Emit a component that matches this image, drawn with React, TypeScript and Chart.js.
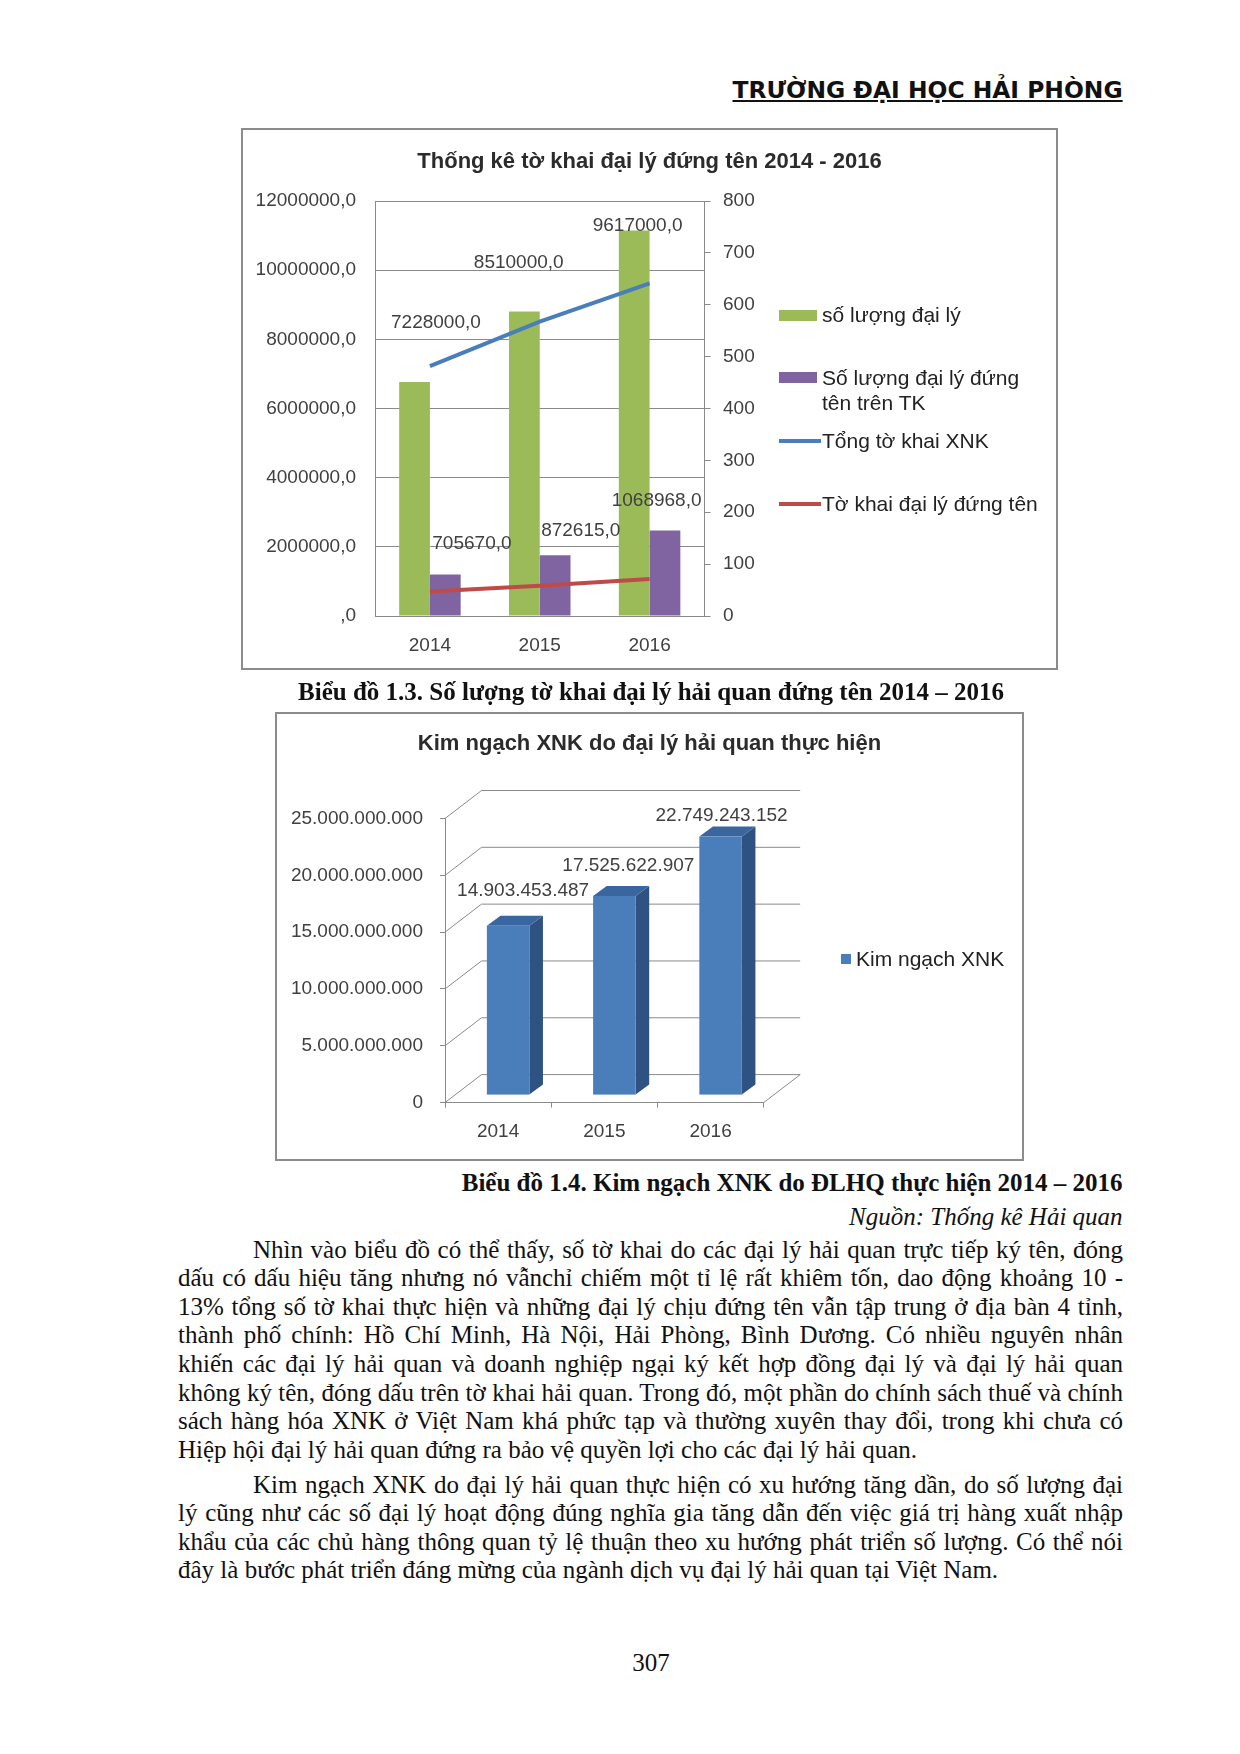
import React, { useEffect, useRef } from 'react';
import { Chart, registerables } from 'chart.js';

Chart.register(...registerables);

// ---------- Chart 1 data ----------
const years = ['2014', '2015', '2016'];
const agentCount = [451, 587, 743]; // số lượng đại lý (right axis)
const signingAgentCount = [80, 117, 165]; // Số lượng đại lý đứng tên trên TK (right axis)
const totalDeclarations = [7228000, 8510000, 9617000]; // Tổng tờ khai XNK (left axis)
const agentDeclarations = [705670, 872615, 1068968]; // Tờ khai đại lý đứng tên (left axis)

// ---------- Chart 2 data ----------
const tradeYears = ['2014', '2015', '2016'];
const tradeValue = [14903453487, 17525622907, 22749243152];

const SANS = '"Liberation Sans", Arial, sans-serif';
const SERIF = '"Liberation Serif", "Times New Roman", serif';
const GRID = '#8a8a8a';
const TXT = '#404040';

const dotFmt = (v: number) => String(Math.round(v)).replace(/\B(?=(\d{3})+(?!\d))/g, '.');
const commaFmt = (v: number) => (v === 0 ? ',0' : `${v},0`);

function ChartOne() {
  const ref = useRef<HTMLCanvasElement>(null);
  useEffect(() => {
    const labelOffsets: Record<number, number[][]> = {
      2: [[6, -43], [-21, -59], [-12, -58]],
      3: [[42, -48], [41, -55], [7, -78]],
    };
    const labelsPlugin = {
      id: 'labels1',
      afterDatasetsDraw(chart: any) {
        const ctx = chart.ctx;
        ctx.save();
        ctx.font = `19px ${SANS}`;
        ctx.fillStyle = TXT;
        ctx.textAlign = 'center';
        ctx.textBaseline = 'middle';
        [2, 3].forEach((di) => {
          const meta = chart.getDatasetMeta(di);
          const data = chart.data.datasets[di].data as number[];
          meta.data.forEach((el: any, i: number) => {
            const o = labelOffsets[di][i];
            ctx.fillText(commaFmt(data[i]), el.x + o[0], el.y + o[1]);
          });
        });
        ctx.restore();
      },
    };
    const chart = new Chart(ref.current!, {
      type: 'bar',
      data: {
        labels: years,
        datasets: [
          { type: 'bar', label: 'số lượng đại lý', data: agentCount, yAxisID: 'y1', backgroundColor: '#9BBB59', order: 2, categoryPercentage: 0.56, barPercentage: 1 },
          { type: 'bar', label: 'Số lượng đại lý đứng tên trên TK', data: signingAgentCount, yAxisID: 'y1', backgroundColor: '#8064A2', order: 2, categoryPercentage: 0.56, barPercentage: 1 },
          { type: 'line', label: 'Tổng tờ khai XNK', data: totalDeclarations, yAxisID: 'y', borderColor: '#4A7EBB', borderWidth: 4, pointRadius: 0, order: 1 },
          { type: 'line', label: 'Tờ khai đại lý đứng tên', data: agentDeclarations, yAxisID: 'y', borderColor: '#BE4B48', borderWidth: 4, pointRadius: 0, order: 1 },
        ] as any,
      },
      options: {
        animation: false,
        responsive: false,
        events: [],
        plugins: {
          legend: { display: false },
          tooltip: { enabled: false },
          title: {
            display: true,
            text: 'Thống kê tờ khai đại lý đứng tên 2014 - 2016',
            font: { family: SANS, size: 22, weight: 'bold', lineHeight: 1.2 },
            color: '#2b2b2b',
            padding: { top: 19.8, bottom: 25.8 },
          },
        },
        scales: {
          x: {
            offset: true,
            grid: { display: false, drawTicks: false },
            border: { display: true, color: GRID, width: 1 },
            ticks: { font: { family: SANS, size: 19 }, color: TXT, padding: 18 },
            afterFit: (s: any) => { s.height = 53; },
          },
          y: {
            position: 'left',
            min: 0,
            max: 12000000,
            ticks: { stepSize: 2000000, font: { family: SANS, size: 19 }, color: TXT, padding: 19, callback: (v: any) => commaFmt(Number(v)) },
            grid: { color: GRID, drawTicks: false, drawOnChartArea: true },
            border: { display: true, color: GRID },
            afterFit: (s: any) => { s.width = 133; },
          },
          y1: {
            position: 'right',
            min: 0,
            max: 800,
            ticks: { stepSize: 100, font: { family: SANS, size: 19 }, color: TXT, padding: 12.5 },
            grid: { color: GRID, drawTicks: true, tickLength: 6, drawOnChartArea: false },
            border: { display: true, color: GRID },
            afterFit: (s: any) => { s.width = 352.5; },
          },
        },
      } as any,
      plugins: [labelsPlugin],
    });
    return () => chart.destroy();
  }, []);
  return <canvas ref={ref} width={815} height={540} style={{ position: 'absolute', left: 242, top: 129, width: 815, height: 540 }} />;
}

function ChartTwo() {
  const ref = useRef<HTMLCanvasElement>(null);
  useEffect(() => {
    const WALL = { dx: 36.5, dy: -28 };
    const SHIFT = { dx: 10, dy: -7.5 };
    const DEPTH = { dx: 13.6, dy: -10 };
    const labelOffsets = [[25, -42], [24, -38], [11, -28]];
    const threeD = {
      id: 'threeD',
      beforeDatasetsDraw(chart: any) {
        const ctx = chart.ctx;
        const { left, right, bottom } = chart.chartArea;
        const ys = chart.scales.y;
        ctx.save();
        ctx.strokeStyle = GRID;
        ctx.lineWidth = 1;
        ys.ticks.forEach((t: any) => {
          const y = ys.getPixelForValue(t.value);
          ctx.beginPath();
          ctx.moveTo(left, y);
          ctx.lineTo(left + WALL.dx, y + WALL.dy);
          ctx.lineTo(right + WALL.dx, y + WALL.dy);
          ctx.stroke();
        });
        ctx.beginPath();
        ctx.moveTo(right, bottom);
        ctx.lineTo(right + WALL.dx, bottom + WALL.dy);
        ctx.stroke();
        ctx.restore();
      },
      afterDatasetsDraw(chart: any) {
        const ctx = chart.ctx;
        const meta = chart.getDatasetMeta(0);
        const data = chart.data.datasets[0].data as number[];
        ctx.save();
        meta.data.forEach((el: any) => {
          const xl = el.x - el.width / 2 + SHIFT.dx;
          const xr = el.x + el.width / 2 + SHIFT.dx;
          const yt = el.y + SHIFT.dy;
          const yb = el.base + SHIFT.dy;
          ctx.fillStyle = '#2E5382';
          ctx.beginPath();
          ctx.moveTo(xr, yt);
          ctx.lineTo(xr + DEPTH.dx, yt + DEPTH.dy);
          ctx.lineTo(xr + DEPTH.dx, yb + DEPTH.dy);
          ctx.lineTo(xr, yb);
          ctx.closePath();
          ctx.fill();
          ctx.fillStyle = '#3A66A0';
          ctx.beginPath();
          ctx.moveTo(xl, yt);
          ctx.lineTo(xr, yt);
          ctx.lineTo(xr + DEPTH.dx, yt + DEPTH.dy);
          ctx.lineTo(xl + DEPTH.dx, yt + DEPTH.dy);
          ctx.closePath();
          ctx.fill();
          ctx.fillStyle = '#4A7EBB';
          ctx.fillRect(xl, yt, xr - xl, yb - yt);
        });
        ctx.font = `19px ${SANS}`;
        ctx.fillStyle = TXT;
        ctx.textAlign = 'center';
        ctx.textBaseline = 'middle';
        meta.data.forEach((el: any, i: number) => {
          ctx.fillText(dotFmt(data[i]), el.x + labelOffsets[i][0], el.y + labelOffsets[i][1]);
        });
        ctx.restore();
      },
    };
    const chart = new Chart(ref.current!, {
      type: 'bar',
      data: {
        labels: tradeYears,
        datasets: [
          { label: 'Kim ngạch XNK', data: tradeValue, backgroundColor: 'rgba(0,0,0,0)', borderWidth: 0, categoryPercentage: 0.4, barPercentage: 1 },
        ],
      },
      options: {
        animation: false,
        responsive: false,
        events: [],
        plugins: {
          legend: { display: false },
          tooltip: { enabled: false },
          title: {
            display: true,
            text: 'Kim ngạch XNK do đại lý hải quan thực hiện',
            font: { family: SANS, size: 22, weight: 'bold', lineHeight: 1.2 },
            color: '#2b2b2b',
            padding: { top: 17.8, bottom: 61.3 },
          },
        },
        scales: {
          x: {
            offset: true,
            grid: { display: true, drawOnChartArea: false, drawTicks: true, tickLength: 5, color: GRID, offset: true },
            border: { display: true, color: GRID },
            ticks: { font: { family: SANS, size: 19 }, color: TXT, padding: 13 },
            afterFit: (s: any) => { s.height = 57.4; },
          },
          y: {
            min: 0,
            max: 25000000000,
            ticks: { stepSize: 5000000000, font: { family: SANS, size: 19 }, color: TXT, padding: 17, callback: (v: any) => dotFmt(Number(v)) },
            grid: { drawOnChartArea: false, drawTicks: true, tickLength: 5, color: GRID },
            border: { display: true, color: GRID },
            afterFit: (s: any) => { s.width = 169; },
          },
          legendSpace: {
            type: 'linear',
            position: 'right',
            display: true,
            ticks: { display: false },
            grid: { display: false, drawTicks: false },
            border: { display: false },
            afterFit: (s: any) => { s.width = 259.3; },
          },
        },
      } as any,
      plugins: [threeD],
    });
    return () => chart.destroy();
  }, []);
  return <canvas ref={ref} width={747} height={447} style={{ position: 'absolute', left: 276, top: 713, width: 747, height: 447 }} />;
}

const T = (props: { cy: number; h?: number; style?: any; children: any }) => {
  const h = props.h ?? 30;
  return (
    <div style={{ position: 'absolute', top: props.cy - h / 2, height: h, lineHeight: `${h}px`, whiteSpace: 'nowrap', ...props.style }}>
      {props.children}
    </div>
  );
};

const para1 = [
  'Nhìn vào biểu đồ có thể thấy, số tờ khai do các đại lý hải quan trực tiếp ký tên, đóng',
  'dấu có dấu hiệu tăng nhưng nó vẫnchỉ chiếm một tỉ lệ rất khiêm tốn, dao động khoảng 10 -',
  '13% tổng số tờ khai thực hiện và những đại lý chịu đứng tên vẫn tập trung ở địa bàn 4 tỉnh,',
  'thành phố chính: Hồ Chí Minh, Hà Nội, Hải Phòng, Bình Dương. Có nhiều nguyên nhân',
  'khiến các đại lý hải quan và doanh nghiệp ngại ký kết hợp đồng đại lý và đại lý hải quan',
  'không ký tên, đóng dấu trên tờ khai hải quan. Trong đó, một phần do chính sách thuế và chính',
  'sách hàng hóa XNK ở Việt Nam khá phức tạp và thường xuyên thay đổi, trong khi chưa có',
  'Hiệp hội đại lý hải quan đứng ra bảo vệ quyền lợi cho các đại lý hải quan.',
];
const para1Y = [1250, 1278, 1307, 1335, 1364, 1393, 1421, 1450];
const para2 = [
  'Kim ngạch XNK do đại lý hải quan thực hiện có xu hướng tăng dần, do số lượng đại',
  'lý cũng như các số đại lý hoạt động đúng nghĩa gia tăng dẫn đến việc giá trị hàng xuất nhập',
  'khẩu của các chủ hàng thông quan tỷ lệ thuận theo xu hướng phát triển số lượng. Có thể nói',
  'đây là bước phát triển đáng mừng của ngành dịch vụ đại lý hải quan tại Việt Nam.',
];
const para2Y = [1485, 1513, 1542, 1570];

function Para({ lines, ys }: { lines: string[]; ys: number[] }) {
  return (
    <>
      {lines.map((ln, i) => {
        const last = i === lines.length - 1;
        const indent = i === 0 ? 75 : 0;
        return (
          <T key={i} cy={ys[i]} h={28} style={{ left: 178 + indent, width: 945 - indent, fontFamily: SERIF, fontSize: 25, textAlign: last ? 'left' : 'justify', textAlignLast: last ? 'left' : 'justify', color: '#111' }}>
            {ln}
          </T>
        );
      })}
    </>
  );
}

export default function App() {
  const legendText = { fontFamily: SANS, fontSize: 21, color: '#222' };
  return (
    <div style={{ position: 'absolute', left: 0, top: 0, width: 1240, height: 1754, background: '#fff', overflow: 'hidden' }}>
      <T cy={89.5} style={{ right: 117.4, fontFamily: '"DejaVu Sans", Verdana, sans-serif', fontWeight: 'bold', fontSize: 23.4, textDecoration: 'underline', color: '#111' }}>
        TRƯỜNG ĐẠI HỌC HẢI PHÒNG
      </T>

      {/* Chart 1 */}
      <ChartOne />
      <div style={{ position: 'absolute', left: 241, top: 128, width: 817, height: 542, border: '2px solid #8c8c8c', boxSizing: 'border-box', pointerEvents: 'none' }} />
      <div style={{ position: 'absolute', left: 779, top: 310, width: 38, height: 11, background: '#9BBB59' }} />
      <T cy={315} h={24} style={{ left: 822, ...legendText }}>số lượng đại lý</T>
      <div style={{ position: 'absolute', left: 779, top: 372, width: 38, height: 11, background: '#8064A2' }} />
      <T cy={378} h={24} style={{ left: 822, ...legendText }}>Số lượng đại lý đứng</T>
      <T cy={402.5} h={24} style={{ left: 822, ...legendText }}>tên trên TK</T>
      <div style={{ position: 'absolute', left: 779, top: 439, width: 42, height: 4, background: '#4A7EBB' }} />
      <T cy={440.5} h={24} style={{ left: 822, ...legendText }}>Tổng tờ khai XNK</T>
      <div style={{ position: 'absolute', left: 779, top: 502, width: 42, height: 4, background: '#BE4B48' }} />
      <T cy={504} h={24} style={{ left: 822, ...legendText }}>Tờ khai đại lý đứng tên</T>

      <T cy={692} style={{ left: 251, width: 800, textAlign: 'center', fontFamily: SERIF, fontWeight: 'bold', fontSize: 25, color: '#111' }}>
        Biểu đồ 1.3. Số lượng tờ khai đại lý hải quan đứng tên 2014 – 2016
      </T>

      {/* Chart 2 */}
      <ChartTwo />
      <div style={{ position: 'absolute', left: 275, top: 712, width: 749, height: 449, border: '2px solid #8c8c8c', boxSizing: 'border-box', pointerEvents: 'none' }} />
      <div style={{ position: 'absolute', left: 841, top: 954, width: 10, height: 10, background: '#4A7EBB' }} />
      <T cy={959} h={24} style={{ left: 856, ...legendText }}>Kim ngạch XNK</T>

      <T cy={1183} style={{ right: 117.4, fontFamily: SERIF, fontWeight: 'bold', fontSize: 25, color: '#111' }}>
        Biểu đồ 1.4. Kim ngạch XNK do ĐLHQ thực hiện 2014 – 2016
      </T>
      <T cy={1216.5} style={{ right: 117.4, fontFamily: SERIF, fontStyle: 'italic', fontSize: 25, color: '#111' }}>
        Nguồn: Thống kê Hải quan
      </T>

      <Para lines={para1} ys={para1Y} />
      <Para lines={para2} ys={para2Y} />

      <T cy={1663} style={{ left: 551, width: 200, textAlign: 'center', fontFamily: SERIF, fontSize: 25, color: '#111' }}>
        307
      </T>
    </div>
  );
}
